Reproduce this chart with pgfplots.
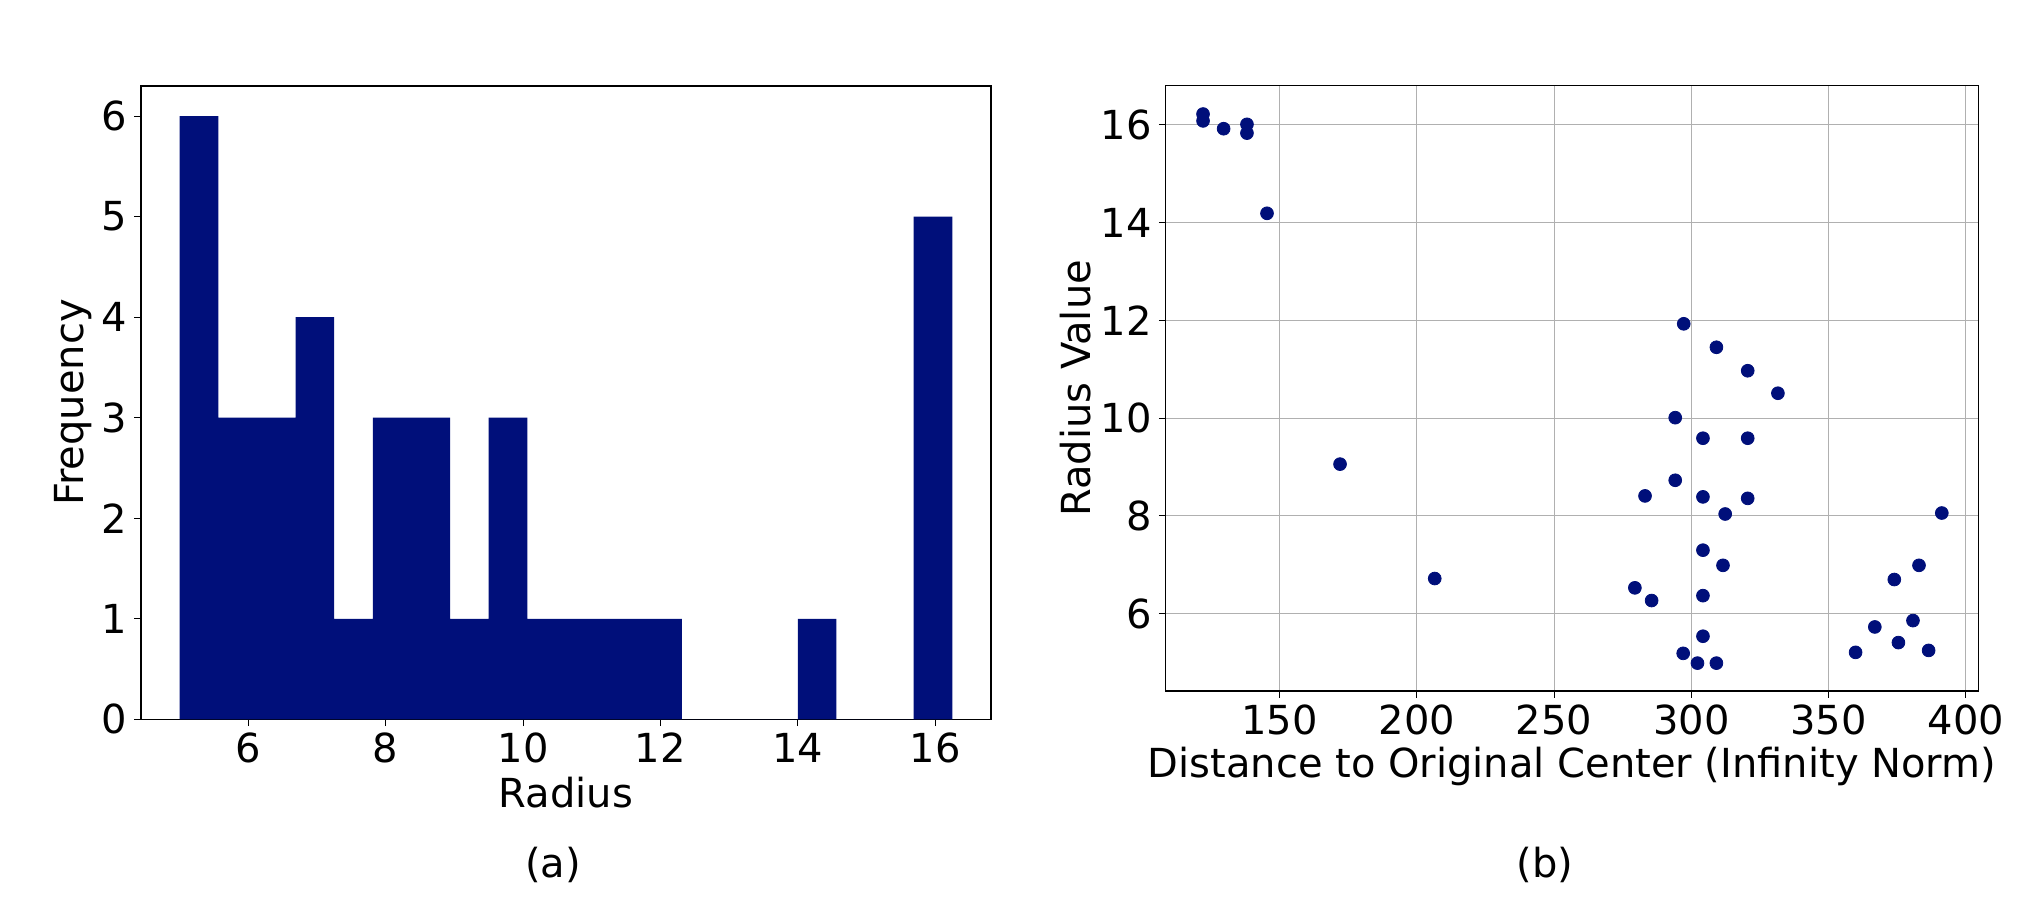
\documentclass[border=0pt]{standalone}
\usepackage{pgfplots}
\pgfplotsset{compat=1.18}
\usepackage{fontspec}
\setmainfont{DejaVu Sans}
\definecolor{barblue}{RGB}{0,15,122}
\definecolor{gridgray}{RGB}{176,176,176}

\pgfplotsset{
  panel/.style={
    scale only axis,
    axis line style={line width=0.65pt},
    tick style={black, line width=0.5pt},
    major tick length=3.4pt,
    tick align=outside,
    xtick pos=bottom, ytick pos=left,
    tick label style={font=\fontsize{20}{24}\selectfont},
    label style={font=\fontsize{20}{24}\selectfont},
    /pgf/number format/assume math mode=true,
  },
}

\begin{document}
\begin{tikzpicture}[x=1pt,y=1pt]
\useasboundingbox (0,0) rectangle (1013,455);

% (a) histogram of radii
\begin{axis}[panel,
  at={(70.5pt,95.35pt)}, anchor=south west,
  width=425pt, height=316.65pt,
  xmin=4.4375, xmax=16.8125,
  ymin=0, ymax=6.3,
  xtick={6,8,10,12,14,16},
  ytick={0,1,2,3,4,5,6},
  xlabel={Radius}, ylabel={Frequency},
  xlabel style={yshift=0pt},
  ylabel style={yshift=-2pt},
]
\addplot[ybar interval, fill=barblue, draw=none] coordinates {
  (5.0000,6) (5.5625,3) (6.1250,3) (6.6875,4) (7.2500,1)
  (7.8125,3) (8.3750,3) (8.9375,1) (9.5000,3) (10.0625,1)
  (10.6250,1) (11.1875,1) (11.7500,1) (12.3125,0) (12.8750,0)
  (13.4375,0) (14.0000,1) (14.5625,0) (15.1250,0) (15.6875,5)
  (16.2500,5)
};
\end{axis}

% (b) radius against distance
\begin{axis}[panel,
  at={(582.85pt,109.5pt)}, anchor=south west,
  width=406.3pt, height=302.65pt,
  xmin=108.5, xmax=404.5,
  ymin=4.42, ymax=16.8,
  xtick={150,200,...,400},
  ytick={6,8,10,12,14,16},
  grid=major,
  major grid style={gridgray, line width=0.5pt},
  xlabel={Distance to Original Center (Infinity Norm)},
  ylabel={Radius Value},
  xlabel style={yshift=1pt},
  ylabel style={yshift=-2pt},
]
\addplot[only marks, mark=*, mark size=3.2pt, barblue] table {
x y
122.1 16.22
122.1 16.08
129.6 15.92
138.1 16.01
138.1 15.83
145.4 14.19
297.2 11.93
309.1 11.45
320.5 10.97
331.5 10.51
294.1 10.01
304.2 9.59
320.5 9.59
172.0 9.06
294.1 8.73
283.1 8.41
304.2 8.39
320.5 8.36
312.3 8.04
391.2 8.06
304.2 7.30
311.5 6.99
206.5 6.72
279.4 6.53
285.5 6.27
304.2 6.37
382.9 6.99
373.9 6.70
380.7 5.86
366.8 5.73
375.4 5.41
386.4 5.25
359.8 5.21
304.2 5.54
297.0 5.19
302.2 4.99
309.1 4.99
};
\end{axis}

\node[font=\fontsize{20}{24}\selectfont] at (276.5,22.7) {(a)};
\node[font=\fontsize{20}{24}\selectfont] at (772.5,22.7) {(b)};
\end{tikzpicture}
\end{document}
